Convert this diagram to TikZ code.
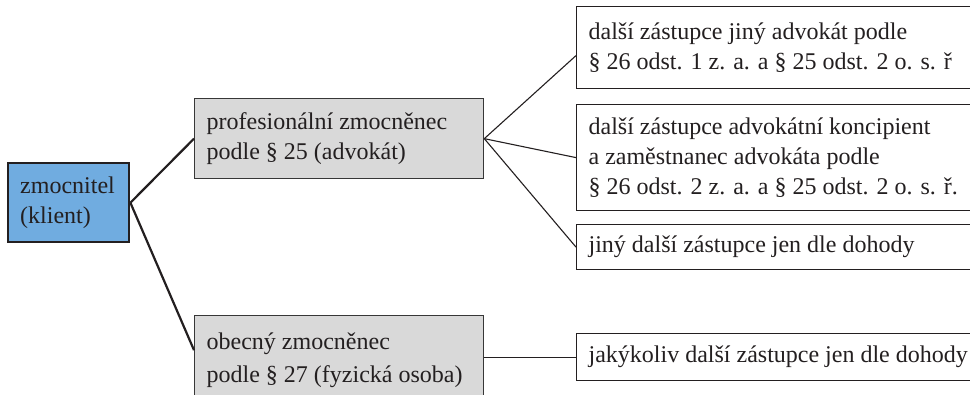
\documentclass[tikz,border=0pt]{standalone}
\usepackage{fontspec}
\setmainfont{Liberation Serif}
\usetikzlibrary{calc}

\definecolor{ink}{RGB}{35,31,32}
\definecolor{clientblue}{RGB}{112,172,224}
\definecolor{proxygray}{RGB}{217,217,217}
\definecolor{edgegray}{RGB}{55,55,55}

\begin{document}
\begin{tikzpicture}[x=1pt,y=-1pt,
  every node/.style={font=\fontsize{24}{30}\selectfont, text=ink},
  box/.style={draw, rectangle, align=flush left, anchor=north west,
              inner xsep=12pt, inner ysep=0pt},
  clientbox/.style={box, draw=ink, line width=2.4pt, fill=clientblue},
  proxybox/.style={box, draw=edgegray, line width=1.3pt, fill=proxygray,
                   minimum width=289pt, text width=265pt},
  subbox/.style={box, draw=ink, line width=1.2pt, fill=white,
                 minimum width=444pt, text width=420pt},
  mainlink/.style={draw=ink, line width=2.2pt},
  sublink/.style={draw=ink, line width=1.1pt}
]
\useasboundingbox (0,0) rectangle (970,394);
\clip (0,0) rectangle (970,394);

% client
\node[clientbox, minimum width=121pt, minimum height=79pt, text width=97pt]
  (client) at (7,162) {zmocnitel\\(klient)};

% first-level proxies
\node[proxybox, minimum height=80pt] (prof) at (194,98)
  {profesionální zmocněnec\\podle § 25 (advokát)};
\node[proxybox, minimum height=89pt, font=\fontsize{24}{33}\selectfont]
  (obecny) at (194,315)
  {obecný zmocněnec\\podle § 27 (fyzická osoba)};

% further representatives
\node[subbox, minimum height=82pt] (r1) at (576,6)
  {další zástupce jiný advokát podle\\§ 26 odst. 1 z. a. a § 25 odst. 2 o. s. ř};
\node[subbox, minimum height=106pt] (r2) at (576,104)
  {další zástupce advokátní koncipient\\a zaměstnanec advokáta podle\\§ 26 odst. 2 z. a. a § 25 odst. 2 o. s. ř.};
\node[subbox, minimum height=45pt] (r3) at (576,224)
  {jiný další zástupce jen dle dohody};
\node[subbox, minimum height=47pt] (r4) at (576,333)
  {jakýkoliv další zástupce jen dle dohody};

% connectors
\draw[mainlink] (client.east) -- (prof.west);
\draw[mainlink] (client.east) -- ($(obecny.west)+(0,-10)$);
\draw[sublink] (prof.east) -- ($(r1.west)+(0,8)$);
\draw[sublink] (prof.east) -- (r2.west);
\draw[sublink] (prof.east) -- (r3.west);
\draw[sublink] (obecny.east |- r4.west) -- (r4.west);
\end{tikzpicture}
\end{document}
